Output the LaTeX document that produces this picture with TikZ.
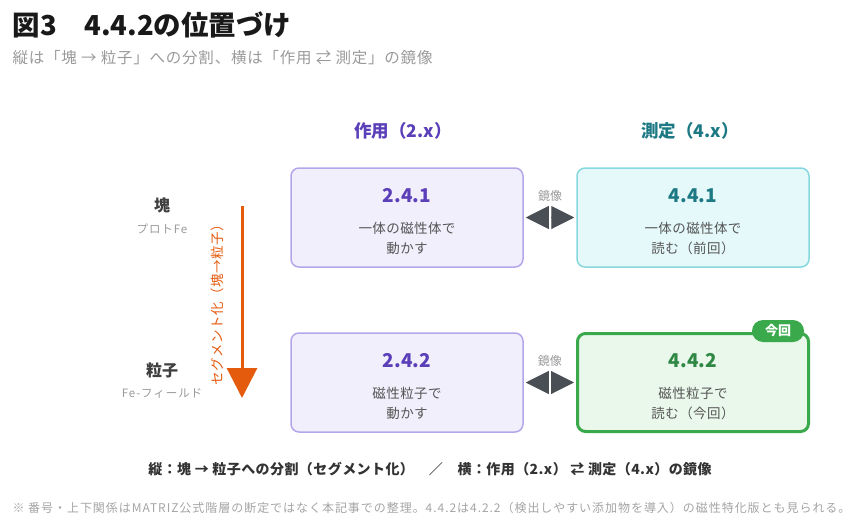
\documentclass[tikz,border=0pt]{standalone}
\usepackage{fontspec}
\setmainfont{Noto Sans CJK JP}
\usepackage{tikz}
\usetikzlibrary{arrows.meta, positioning}

\definecolor{actpurple}{HTML}{5B3FB8}
\definecolor{actborder}{HTML}{B5A6EC}
\definecolor{actfill}{HTML}{F2EFFD}
\definecolor{meateal}{HTML}{1D7A84}
\definecolor{meaborder}{HTML}{86D8DE}
\definecolor{meafill}{HTML}{E5F9FA}
\definecolor{nowgreen}{HTML}{3AA94C}
\definecolor{nowtext}{HTML}{2E8743}
\definecolor{nowfill}{HTML}{EAF8EC}
\definecolor{segorange}{HTML}{E55B0E}
\definecolor{mirrorgray}{HTML}{4A4F55}
\definecolor{bodygray}{HTML}{555555}
\definecolor{lightgray}{HTML}{9A9A9A}

\begin{document}
\begin{tikzpicture}[x=1pt, y=-1pt,
    actbox/.style={draw=actborder, line width=1.5pt, fill=actfill, rounded corners=8pt, minimum width=232pt, minimum height=99pt},
    meabox/.style={draw=meaborder, line width=1.5pt, fill=meafill, rounded corners=8pt, minimum width=232pt, minimum height=99pt},
    nowbox/.style={draw=nowgreen, line width=3pt, fill=nowfill, rounded corners=8pt, minimum width=231pt, minimum height=98pt},
    num/.style={font=\fontsize{19}{22}\selectfont\bfseries},
    body/.style={align=center, text=bodygray, font=\fontsize{13.5}{20}\selectfont\addfontfeature{LetterSpace=3}},
    mirror/.style={{Triangle[width=23pt,length=23pt]}-{Triangle[width=23pt,length=23pt]}, mirrorgray, line width=1pt, shorten <=2pt, shorten >=2pt},
    side/.style={font=\fontsize{16}{18}\selectfont\bfseries, text=black!75},
    sidesub/.style={font=\fontsize{11.5}{14}\selectfont\addfontfeature{LetterSpace=8}, text=lightgray}
]
\useasboundingbox (0,0) rectangle (861,525);

% Title
\node[anchor=west, font=\fontsize{27.5}{32}\selectfont\bfseries, text=black!90] (title) at (9,25) {図3　4.4.2の位置づけ};
\node[anchor=west, font=\fontsize{15.5}{18}\selectfont\addfontfeature{LetterSpace=5}, text=lightgray] (subtitle) at (9,58) {縦は「塊 → 粒子」への分割、横は「作用 ⇄ 測定」の鏡像};

% Column heads
\node[font=\fontsize{17.5}{20}\selectfont\bfseries, text=actpurple] (headact) at (403,131) {作用（2.x）};
\node[font=\fontsize{17.5}{20}\selectfont\bfseries, text=meateal] (headmea) at (690,131) {測定（4.x）};

% Boxes
\node[actbox] (b241) at (407,217.5) {};
\node[num, text=actpurple] at (407,196) {2.4.1};
\node[body] at (407,238) {一体の磁性体で\\動かす};

\node[meabox] (b441) at (693,217.5) {};
\node[num, text=meateal] at (693,196) {4.4.1};
\node[body] at (693,238) {一体の磁性体で\\読む（前回）};

\node[actbox] (b242) at (407,382.5) {};
\node[num, text=actpurple] at (407,361) {2.4.2};
\node[body] at (407,403) {磁性粒子で\\動かす};

\node[nowbox] (b442) at (693,382.5) {};
\node[num, text=nowtext] at (693,361) {4.4.2};
\node[body] at (693,403) {磁性粒子で\\読む（今回）};
\node[fill=nowgreen, text=white, rounded corners=11pt, minimum width=52pt, minimum height=22pt, inner sep=0pt, font=\fontsize{13}{15}\selectfont\bfseries] (now) at (778,331) {今回};

% Mirror links
\draw[mirror] (b241.east) -- node[fill=white, minimum width=2.5pt, minimum height=28pt, inner sep=0pt] {} node[above=12pt, font=\fontsize{12}{13}\selectfont, text=lightgray] {鏡像} (b441.west);
\draw[mirror] (b242.east) -- node[fill=white, minimum width=2.5pt, minimum height=28pt, inner sep=0pt] {} node[above=12pt, font=\fontsize{12}{13}\selectfont, text=lightgray] {鏡像} (b442.west);

% Rows
\node[side] (lump) at (162,205) {塊};
\node[sidesub] (lumpsub) at (162,229) {プロトFe};
\node[side] (grain) at (162,370) {粒子};
\node[sidesub] (grainsub) at (162,394) {Fe-フィールド};

% Segmentation arrow
\coordinate (segtop) at (242,206);
\coordinate (segbot) at (242,398);
\draw[-{Triangle[width=30pt,length=30pt]}, line width=3pt, segorange] (segtop) -- node[left=13pt, rotate=90, anchor=south, font=\fontsize{13.5}{15}\selectfont\addfontfeature{LetterSpace=4}, text=segorange] {セグメント化（塊→粒子）} (segbot);

% Caption
\node[font=\fontsize{14}{16}\selectfont\bfseries\addfontfeature{LetterSpace=3}, text=black!80] (caption) at (430,469) {縦：塊 → 粒子への分割（セグメント化）　／　横：作用（2.x） ⇄ 測定（4.x）の鏡像};
\node[anchor=west, font=\fontsize{12}{14}\selectfont\addfontfeature{LetterSpace=8}, text=lightgray!90] (note) at (9,508) {※ 番号・上下関係はMATRIZ公式階層の断定ではなく本記事での整理。4.4.2は4.2.2（検出しやすい添加物を導入）の磁性特化版とも見られる。};

\end{tikzpicture}
\end{document}
